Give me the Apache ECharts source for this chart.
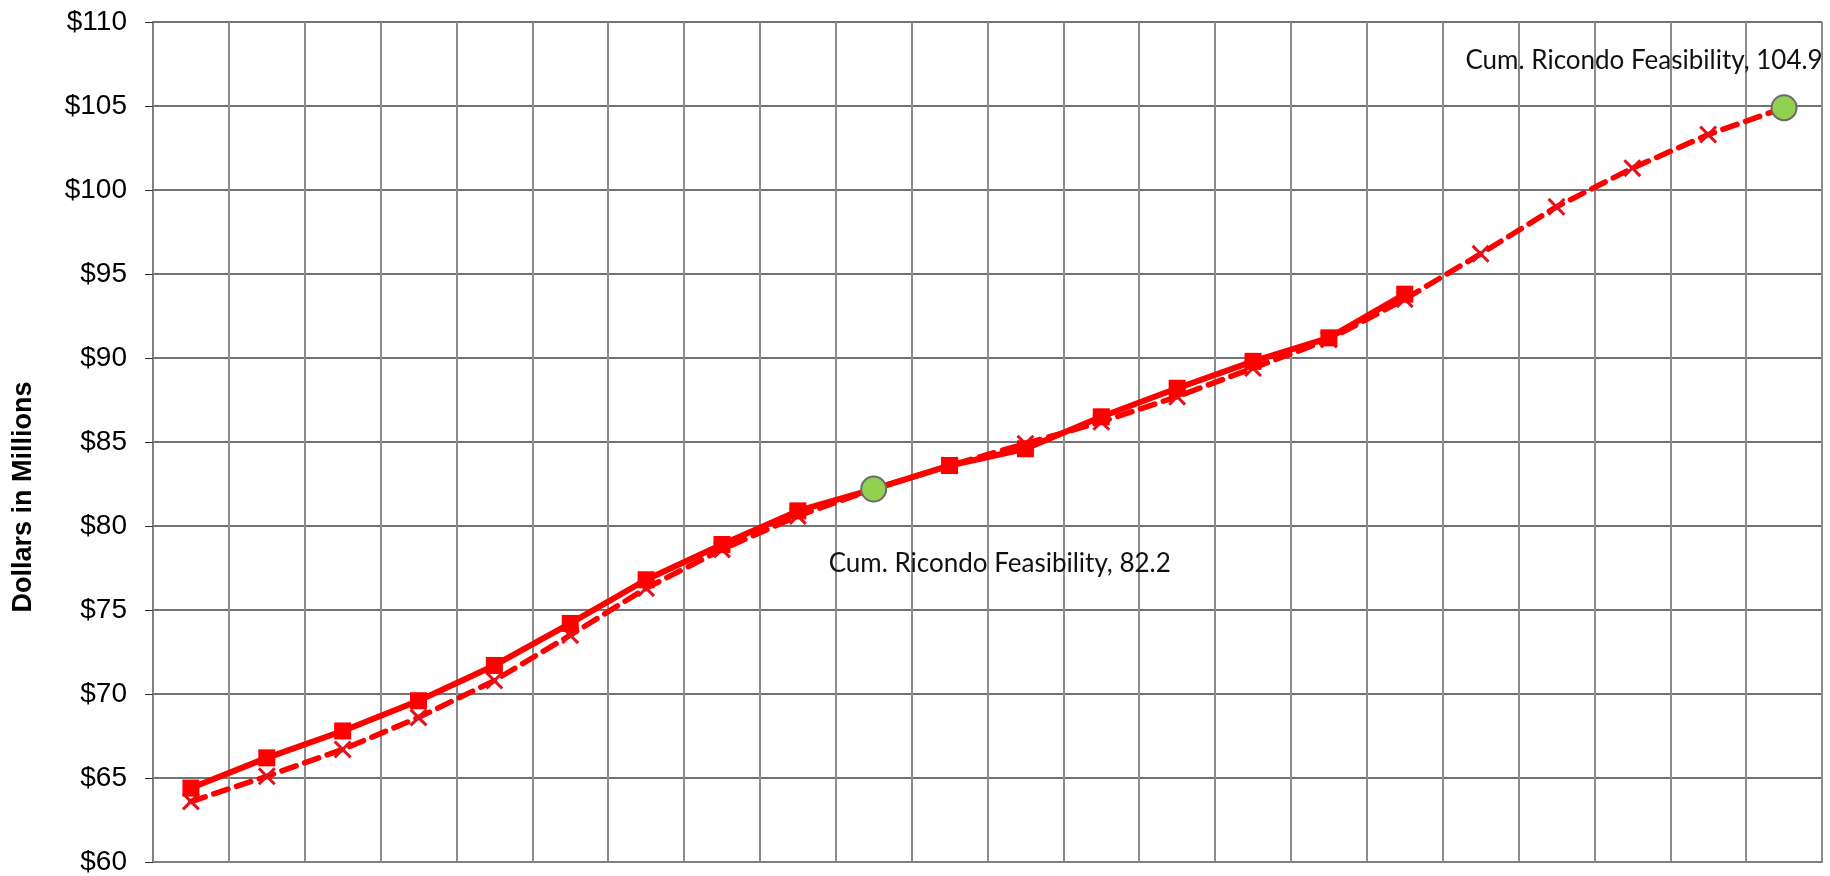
<!DOCTYPE html>
<html>
<head>
<meta charset="utf-8">
<script src="https://cdn.jsdelivr.net/npm/echarts@6/dist/echarts.min.js"></script>
<style>
html,body{margin:0;padding:0;background:#fff;}
#chart{width:1830px;height:876px;}
</style>
</head>
<body>
<div id="chart"></div>
<script>
// Categories (periods; the reference shows no x labels)
const categories = ['1','2','3','4','5','6','7','8','9','10','11','12','13','14','15','16','17','18','19','20','21','22'];
// Solid line with square markers
const actualValues = [64.4, 66.2, 67.8, 69.6, 71.7, 74.2, 76.8, 78.9, 80.9, 82.2, 83.6, 84.6, 86.5, 88.2, 89.8, 91.2, 93.8, null, null, null, null, null];
// Dashed line with x markers
const projectedValues = [63.6, 65.1, 66.7, 68.6, 70.8, 73.5, 76.3, 78.6, 80.6, 82.2, 83.6, 84.9, 86.2, 87.7, 89.4, 91.1, 93.5, 96.2, 99.0, 101.3, 103.3, 104.9];
// Cum. Ricondo Feasibility points
const feasibilityValues = [null, null, null, null, null, null, null, null, null, 82.2, null, null, null, null, null, null, null, null, null, null, null, 104.9];
const feasibilityName = 'Cum. Ricondo Feasibility';
const yTicks = {min: 60, max: 110, interval: 5};

const chart = echarts.init(document.getElementById('chart'));
const xSymbol = 'path://M0,1.2 L1.2,0 L5,3.8 L8.8,0 L10,1.2 L6.2,5 L10,8.8 L8.8,10 L5,6.2 L1.2,10 L0,8.8 L3.8,5 Z';

const feasData = feasibilityValues.map((v, i) => {
  if (v == null) return null;
  const lbl = i === 9
    ? {show: true, position: 'inside', offset: [126, 75]}
    : {show: true, position: 'inside', offset: [-140, -47]};
  return {value: v, label: Object.assign(lbl, {
    formatter: feasibilityName + ', ' + v.toFixed(1),
    fontFamily: 'Lato', fontSize: 26, color: '#111', align: 'center', verticalAlign: 'middle'
  })};
});

chart.setOption({
  animation: false,
  backgroundColor: '#fff',
  grid: {left: 153, right: 8, top: 22, bottom: 13, containLabel: false},
  graphic: [{
    type: 'text', x: 24, y: 497, rotation: Math.PI / 2,
    style: {text: 'Dollars in Millions', font: 'bold 27px "Liberation Sans", Arial, sans-serif',
      fill: '#000', align: 'center', verticalAlign: 'middle'}
  }],
  xAxis: {
    type: 'category', data: categories, boundaryGap: true,
    axisLine: {show: true, lineStyle: {color: '#808080', width: 2}},
    axisTick: {show: false}, axisLabel: {show: false},
    splitLine: {show: true, lineStyle: {color: '#8c8c8c', width: 2}}
  },
  yAxis: {
    type: 'value', min: yTicks.min, max: yTicks.max, interval: yTicks.interval,
    axisLine: {show: true, lineStyle: {color: '#808080', width: 2}},
    axisTick: {show: true, length: 8, lineStyle: {color: '#333', width: 1}},
    axisLabel: {margin: 26, formatter: v => '$' + v, fontFamily: '"Liberation Sans", Arial, sans-serif', fontSize: 28, color: '#000'},
    splitLine: {show: true, lineStyle: {color: '#444', width: 1.5}}
  },
  series: [
    {
      name: 'Projected', type: 'line', data: projectedValues, z: 3,
      symbol: xSymbol, symbolSize: 18,
      itemStyle: {color: '#e3121c'},
      lineStyle: {color: '#ff0000', width: 5.5, type: [15, 9], cap: 'round'}
    },
    {
      name: 'Actual', type: 'line', data: actualValues, z: 4,
      symbol: 'rect', symbolSize: 17, connectNulls: false,
      itemStyle: {color: '#ff0000'},
      lineStyle: {color: '#ff0000', width: 6}
    },
    {
      name: feasibilityName, type: 'line', data: feasData, z: 5,
      symbol: 'circle', symbolSize: 25, showSymbol: true,
      lineStyle: {opacity: 0},
      itemStyle: {color: '#92d050', borderColor: '#6b6b6b', borderWidth: 2}
    }
  ]
});
</script>
</body>
</html>
